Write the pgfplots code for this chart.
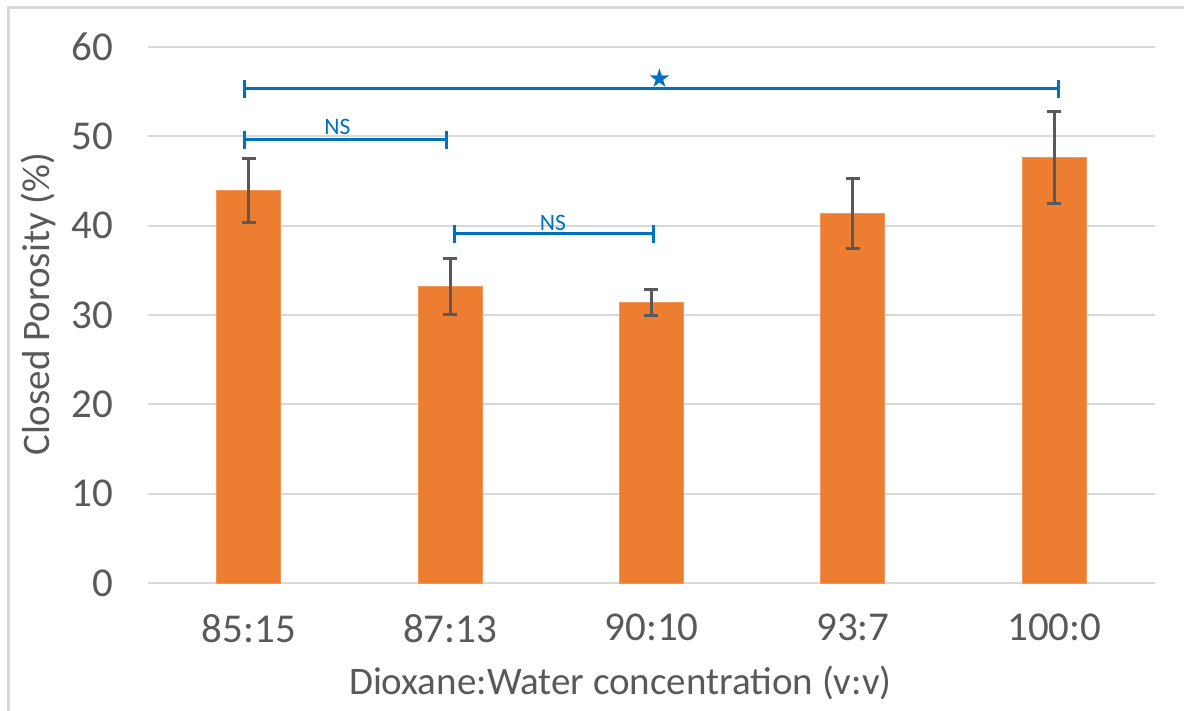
\documentclass[border=0pt]{standalone}
\usepackage{pgfplots}
\pgfplotsset{compat=1.18}
\usepackage{fontspec}
\setmainfont{Carlito}
\newfontfamily\symfont{DejaVu Sans}
\definecolor{barorange}{HTML}{ED7D31}
\definecolor{gridgray}{HTML}{D9D9D9}
\definecolor{textgray}{HTML}{595959}
\definecolor{sigblue}{HTML}{0070C0}
\begin{document}
\begin{tikzpicture}
\begin{axis}[
  at={(0pt,0pt)}, anchor=south west,
  scale only axis,
  width=503.5pt, height=268pt,
  xmin=-0.5, xmax=4.5,
  ymin=0, ymax=60,
  ytick={0,10,...,60},
  xtick={0,1,2,3,4},
  xticklabels={85:15,87:13,90:10,93:7,100:0},
  ymajorgrids,
  grid style={gridgray, line width=1pt},
  axis line style={draw=none},
  tick style={draw=none},
  clip=false,
  /pgf/number format/assume math mode=true,
  ticklabel style={font=\fontsize{20.5}{24}\selectfont, text=textgray},
  yticklabel style={xshift=-14pt},
  xticklabel style={yshift=-12pt},
  xlabel={Dioxane:Water concentration (v:v)},
  ylabel={Closed Porosity (\%)},
  label style={font=\fontsize{19.5}{23}\selectfont, text=textgray},
  x label style={at={(axis description cs:0.469,-0.1866)}, anchor=center},
  y label style={at={(axis description cs:-0.109,0.52)}, anchor=center},
]
\addplot[ybar, bar width=32pt, fill=barorange, draw=barorange!80!white,
  error bars/.cd, y dir=both, y explicit,
  error mark=|,
  error mark options={line width=1.5pt, mark size=3.5pt, draw=textgray},
  error bar style={line width=1.5pt, draw=textgray}]
  coordinates {
  (0,43.9) +- (0,3.6)
  (1,33.2) +- (0,3.1)
  (2,31.4) +- (0,1.45)
  (3,41.4) +- (0,3.9)
  (4,47.6) +- (0,5.15)
  };
% significance brackets
\addplot[sigblue, line width=1.5pt, mark=|, mark size=4.5pt, mark options={solid, line width=1.5pt}]
  coordinates {(-0.02,55.3) (4.02,55.3)};
\addplot[sigblue, line width=1.5pt, mark=|, mark size=4.5pt, mark options={solid, line width=1.5pt}]
  coordinates {(-0.02,49.6) (0.98,49.6)};
\addplot[sigblue, line width=1.5pt, mark=|, mark size=4.5pt, mark options={solid, line width=1.5pt}]
  coordinates {(1.02,39.1) (2.01,39.1)};
\node[text=sigblue, font=\fontsize{11.8}{14}\selectfont] at (axis cs:0.44,51.1) {NS};
\node[text=sigblue, font=\fontsize{11.8}{14}\selectfont] at (axis cs:1.51,40.35) {NS};
\node[text=sigblue, font=\symfont\fontsize{13}{15}\selectfont, inner sep=0pt] at (axis cs:2.04,56.5) {★};
\end{axis}
\pgfresetboundingbox
\useasboundingbox (-74pt,-64pt) rectangle (518pt,291.5pt);
\draw[gridgray, line width=1.5pt] (-69.75pt,-66pt) -- (-69.75pt,287.5pt) -- (520pt,287.5pt);
\end{tikzpicture}
\end{document}
